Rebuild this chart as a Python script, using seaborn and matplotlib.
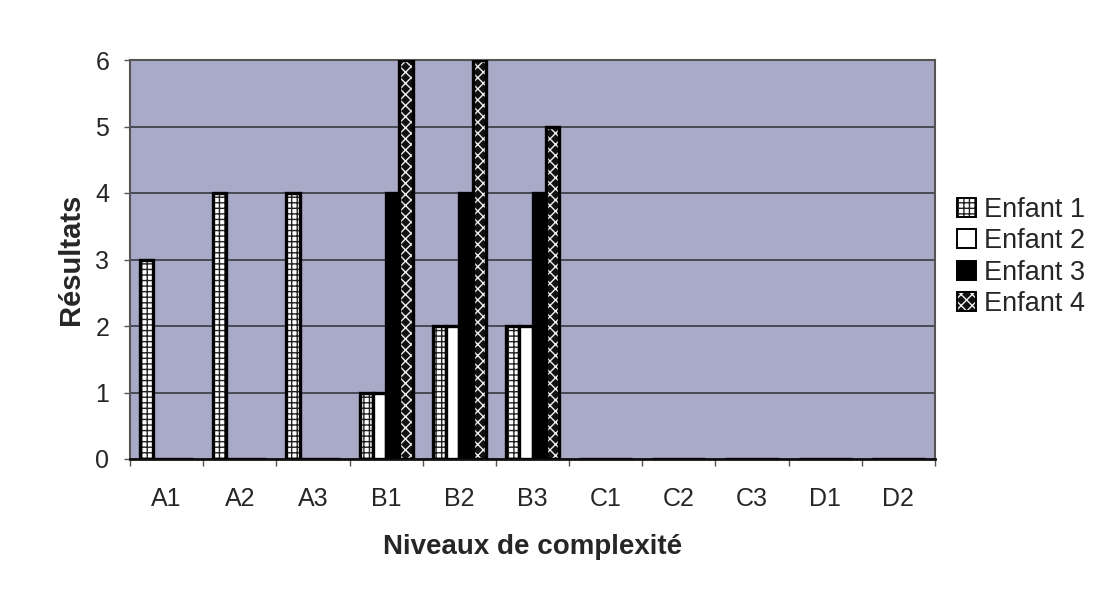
import numpy as np
import pandas as pd
import matplotlib
matplotlib.use("Agg")
import matplotlib.pyplot as plt
import seaborn as sns
from matplotlib.patches import Patch
from matplotlib.colors import to_rgba

# ---- data ----
categories = ["A1", "A2", "A3", "B1", "B2", "B3", "C1", "C2", "C3", "D1", "D2"]
series = ["Enfant 1", "Enfant 2", "Enfant 3", "Enfant 4"]
enfant1 = [3, 4, 4, 1, 2, 2, 0, 0, 0, 0, 0]
enfant2 = [0, 0, 0, 1, 2, 2, 0, 0, 0, 0, 0]
enfant3 = [0, 0, 0, 4, 4, 4, 0, 0, 0, 0, 0]
enfant4 = [0, 0, 0, 6, 6, 5, 0, 0, 0, 0, 0]
y_ticks = [0, 1, 2, 3, 4, 5, 6]

values = {"Enfant 1": enfant1, "Enfant 2": enfant2, "Enfant 3": enfant3, "Enfant 4": enfant4}
rows = []
for s in series:
    for c, v in zip(categories, values[s]):
        rows.append({"Niveau": c, "Enfant": s, "Résultat": v})
df = pd.DataFrame(rows)

# ---- style ----
sns.set_theme(style="white")
plt.rcParams["font.family"] = ["Liberation Sans", "DejaVu Sans"]
plt.rcParams["hatch.linewidth"] = 1.0

face = {"Enfant 1": "white", "Enfant 2": "white", "Enfant 3": "black", "Enfant 4": "#111111"}
hatch = {"Enfant 1": "+++", "Enfant 2": "", "Enfant 3": "", "Enfant 4": "xxx"}
hatch_col = {"Enfant 1": "#222222", "Enfant 2": "black", "Enfant 3": "black", "Enfant 4": "#f0f0f0"}

fig = plt.figure(figsize=(11.08, 5.91), dpi=100)
fig.patch.set_facecolor("white")
ax = fig.add_axes([130 / 1108, 1 - 459 / 591, 805 / 1108, 399 / 591])
ax.set_facecolor("#A9A9C8")

sns.barplot(data=df, x="Niveau", y="Résultat", hue="Enfant",
            order=categories, hue_order=series,
            palette=[face[s] for s in series], saturation=1,
            width=4 / 5.5, gap=0, errorbar=None, legend=False, ax=ax,
            zorder=3)

for s, cont in zip(series, ax.containers):
    for p in cont.patches:
        p.set_facecolor(face[s])
        p.set_hatch(hatch[s])
        p.set_edgecolor("black")
        p._hatch_color = to_rgba(hatch_col[s])
        p.set_linewidth(2.4)

ax.set_ylim(0, 6)
ax.set_xlim(-0.5, len(categories) - 0.5)
ax.set_yticks(y_ticks)
ax.set_yticklabels([str(t) for t in y_ticks])
ax.yaxis.grid(True, color="#4a4a55", linewidth=1.4, zorder=1)
ax.set_axisbelow(True)

# category ticks at boundaries, labels at centres
ax.set_xticks(np.arange(-0.5, len(categories), 1.0))
ax.set_xticklabels([])
ax.set_xticks(np.arange(len(categories)), minor=True)
ax.set_xticklabels(categories, minor=True)
ax.tick_params(axis="x", which="major", direction="out", length=5, width=1, color="#555555", bottom=True)
ax.tick_params(axis="x", which="minor", length=0, pad=20, labelsize=18)
ax.tick_params(axis="y", direction="out", length=4, width=1, color="#555555", left=True, pad=11, labelsize=18)

for sp in ax.spines.values():
    sp.set_visible(True)
    sp.set_color("#555555")
    sp.set_linewidth(1.5)
ax.spines["bottom"].set_color("#111111")
ax.spines["bottom"].set_linewidth(2)

ax.set_xlabel("Niveaux de complexité", fontsize=20, fontweight="bold", labelpad=17)
ax.set_ylabel("Résultats", fontsize=21, fontweight="bold", labelpad=7)

handles = []
for s in series:
    h = Patch(facecolor=face[s], edgecolor="black", hatch=hatch[s], linewidth=1.4)
    h._hatch_color = to_rgba(hatch_col[s])
    handles.append(h)
leg = ax.legend(handles, series, loc="center left",
                bbox_to_anchor=(957 / 1108, 1 - 257 / 591), bbox_transform=fig.transFigure,
                frameon=False, fontsize=19.5, handlelength=0.7, handleheight=0.7,
                handletextpad=0.3, labelspacing=0.2, borderpad=0, borderaxespad=0)
for s, p in zip(series, leg.get_patches()):
    p._hatch_color = to_rgba(hatch_col[s])

fig.savefig("out.png", dpi=100, facecolor="white")
